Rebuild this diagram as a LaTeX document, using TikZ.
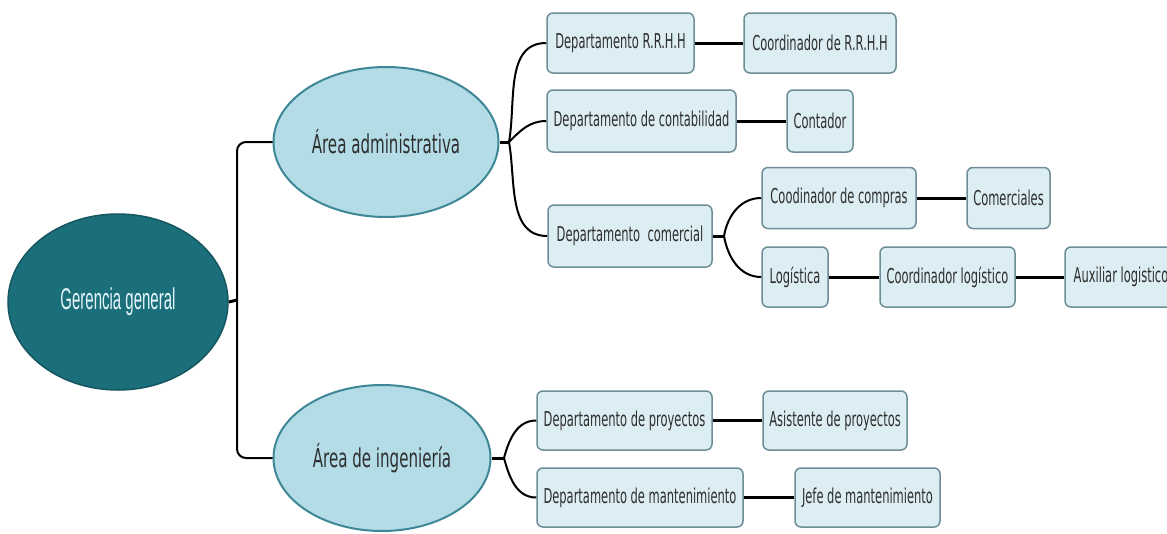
\documentclass[tikz,border=0pt]{standalone}
\usepackage{fontspec}
\usetikzlibrary{shapes.geometric}
\newfontfamily\boxfont[FakeStretch=0.56]{DejaVu Sans}
\newfontfamily\areafont[FakeStretch=0.58]{DejaVu Sans}
\newfontfamily\ggfont[FakeStretch=0.5]{Liberation Sans}
\definecolor{ggfill}{HTML}{1B6F7B}
\definecolor{ggdraw}{HTML}{15565F}
\definecolor{ggtext}{HTML}{E4F5F8}
\definecolor{areafill}{HTML}{B3DCE7}
\definecolor{areadraw}{HTML}{3E8796}
\definecolor{boxfill}{HTML}{DCEEF4}
\definecolor{boxdraw}{HTML}{6D8E96}
\definecolor{txt}{HTML}{2E2E2E}
\tikzset{
  box/.style={draw=boxdraw, fill=boxfill, line width=1.5pt, rounded corners=6pt,
    inner sep=0pt, minimum height=60pt, text=txt, font=\boxfont\fontsize{20.5}{22}\selectfont},
  area/.style={ellipse, draw=areadraw, fill=areafill, line width=2pt, inner sep=0pt,
    text=txt, font=\areafont\fontsize{26}{28}\selectfont},
  root/.style={ellipse, draw=ggdraw, fill=ggfill, line width=1.5pt, inner sep=0pt,
    text=ggtext, font=\ggfont\fontsize{30}{32}\selectfont},
  conn/.style={draw=black, line width=3pt},
  thin/.style={draw=black, line width=2pt},
}
\begin{document}
\begin{tikzpicture}[x=1pt,y=-1pt]
\useasboundingbox (0,0) rectangle (1167,533);
\clip (0,0) rectangle (1167,533);
% root
\node[root, minimum width=220pt, minimum height=176pt] (gg) at (118,302) {Gerencia general};
% areas
\node[area, minimum width=225pt, minimum height=150pt] (aa) at (386,142) {Área administrativa};
\node[area, minimum width=217pt, minimum height=146pt] (ai) at (382,458) {Área de ingeniería};
% departments
\node[box, minimum width=147pt] (rrhh) at (620.5,43) {Departamento R.R.H.H};
\node[box, minimum width=152pt] (crrhh) at (820,43) {Coordinador de R.R.H.H};
\node[box, minimum width=189pt, minimum height=62pt] (cont) at (641.5,121) {Departamento de contabilidad};
\node[box, minimum width=66pt, minimum height=62pt] (contador) at (820,121) {Contador};
\node[box, minimum width=164pt, minimum height=62pt] (com) at (630,236) {Departamento\ \ comercial};
\node[box, minimum width=154pt, minimum height=61pt] (ccomp) at (839,198) {Coodinador de compras};
\node[box, minimum width=83pt, minimum height=61pt] (comerc) at (1008.5,198) {Comerciales};
\node[box, minimum width=66pt] (log) at (795,277) {Logística};
\node[box, minimum width=135pt] (clog) at (947.5,277) {Coordinador logístico};
\node[box, minimum width=112pt] (aux) at (1121,277) {Auxiliar logistico};
\node[box, minimum width=175pt, minimum height=59pt] (proy) at (624.5,420.5) {Departamento de proyectos};
\node[box, minimum width=144pt, minimum height=59pt] (aproy) at (835,420.5) {Asistente de proyectos};
\node[box, minimum width=206pt, minimum height=59pt] (mant) at (640,497.5) {Departamento de mantenimiento};
\node[box, minimum width=145pt, minimum height=59pt] (jmant) at (867.5,497.5) {Jefe de mantenimiento};
% trunk
\coordinate (t) at (237,300);
\draw[conn] (gg.east) -- (t);
\draw[thin, rounded corners=9pt] (aa.west) -| (t) |- (ai.west);
% administrativa branch
\coordinate (ab) at (509,142);
\draw[conn] (aa.east) -- (ab);
\draw[thin] (ab) to[out=80,in=180] (rrhh.west);
\draw[thin] (ab) to[out=45,in=180] (cont.west);
\draw[thin] (ab) to[out=-80,in=180] (com.west);
\draw[conn] (rrhh.east) -- (crrhh.west);
\draw[conn] (cont.east) -- (contador.west);
% comercial branch
\coordinate (cb) at (724,236);
\draw[conn] (com.east) -- (cb);
\draw[thin] (cb) to[out=80,in=180] (ccomp.west);
\draw[thin] (cb) to[out=-80,in=180] (log.west);
\draw[conn] (ccomp.east) -- (comerc.west);
\draw[conn] (log.east) -- (clog.west);
\draw[conn] (clog.east) -- (aux.west);
% ingenieria branch
\coordinate (ib) at (504,458);
\draw[conn] (ai.east) -- (ib);
\draw[thin] (ib) to[out=75,in=180] (proy.west);
\draw[thin] (ib) to[out=-75,in=180] (mant.west);
\draw[conn] (proy.east) -- (aproy.west);
\draw[conn] (mant.east) -- (jmant.west);
\end{tikzpicture}
\end{document}
